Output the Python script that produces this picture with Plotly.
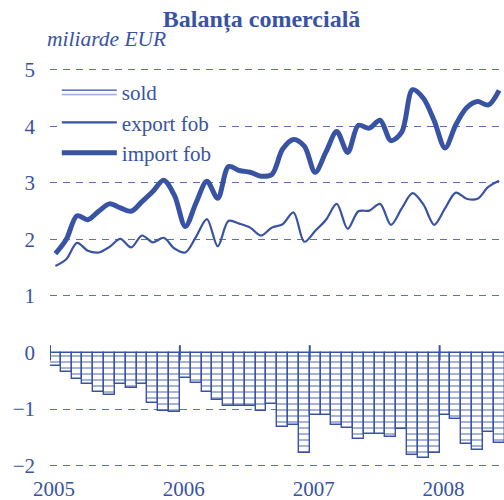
import plotly.graph_objects as go

# ---- data (monthly, Jan 2005 - Jun 2008), billion EUR ----
years = ["2005", "2006", "2007", "2008"]
months_per_year = 12

sold = [-0.24, -0.35, -0.47, -0.56, -0.69, -0.75, -0.56, -0.63, -0.55, -0.89, -1.03, -1.05,
        -0.45, -0.54, -0.69, -0.84, -0.94, -0.94, -0.95, -1.03, -0.91, -1.32, -1.29, -1.78,
        -1.10, -1.11, -1.28, -1.34, -1.53, -1.45, -1.45, -1.49, -1.36, -1.81, -1.86, -1.78,
        -1.11, -1.17, -1.62, -1.72, -1.41, -1.60]

export_fob = [1.53, 1.65, 1.94, 1.80, 1.77, 1.87, 2.01, 1.86, 2.07, 1.95, 2.03, 1.84,
              1.77, 2.05, 2.36, 1.88, 2.33, 2.28, 2.21, 2.07, 2.21, 2.27, 2.48, 1.96,
              2.15, 2.35, 2.63, 2.19, 2.50, 2.51, 2.63, 2.26, 2.55, 2.82, 2.62, 2.26,
              2.55, 2.83, 2.72, 2.72, 2.93, 3.04]

import_fob = [1.75, 2.00, 2.42, 2.35, 2.50, 2.63, 2.56, 2.50, 2.67, 2.85, 3.05, 2.78,
              2.23, 2.65, 3.03, 2.73, 3.29, 3.22, 3.19, 3.12, 3.15, 3.60, 3.77, 3.65,
              3.19, 3.55, 3.91, 3.54, 4.02, 3.97, 4.11, 3.75, 3.90, 4.65, 4.50, 4.10,
              3.62, 4.03, 4.33, 4.44, 4.38, 4.64]

y_ticks = [5, 4, 3, 2, 1, 0, -1, -2]

BLUE = "#3953a4"
FONT = "Liberation Serif"

x = [i + 0.5 for i in range(len(sold))]
year_pos = [i * months_per_year for i in range(len(years))]

fig = go.Figure()
fig.add_trace(go.Bar(
    x=x, y=sold, width=1.0, name="sold", showlegend=False,
    marker=dict(color="white", line=dict(color=BLUE, width=1.4),
                pattern=dict(shape="-", fgcolor=BLUE, bgcolor="white",
                             size=6, solidity=0.3, fillmode="overlay")),
))
# legend entry for the balance (wide striped box like the original)
fig.add_trace(go.Scatter(
    x=[None], y=[None], mode="lines", name="sold", fill="toself",
    line=dict(color=BLUE, width=1.4), fillcolor="white",
    fillpattern=dict(shape="-", fgcolor=BLUE, bgcolor="white", size=5, solidity=0.3),
))
fig.add_trace(go.Scatter(
    x=x, y=export_fob, mode="lines", name="export fob",
    line=dict(color=BLUE, width=2.2, shape="spline", smoothing=0.9),
))
fig.add_trace(go.Scatter(
    x=x, y=import_fob, mode="lines", name="import fob",
    line=dict(color=BLUE, width=5, shape="spline", smoothing=0.9),
))

# year tick marks crossing the zero line
for p in year_pos:
    fig.add_shape(type="line", xref="x", yref="y", x0=p, x1=p, y0=-0.14, y1=0.13,
                  line=dict(color=BLUE, width=2), layer="above")

fig.update_layout(
    width=504, height=500,
    margin=dict(l=50, r=0, t=53, b=26, autoexpand=False),
    paper_bgcolor="white", plot_bgcolor="white",
    font=dict(family=FONT, color=BLUE, size=21),
    title=dict(text="<b>Balanța comercială</b>", x=0.519, xref="container", xanchor="center",
               y=0.962, yref="container", yanchor="middle",
               font=dict(family=FONT, size=24, color=BLUE)),
    showlegend=True,
    legend=dict(x=0.015, y=0.955, xanchor="left", yanchor="top", bgcolor="white",
                font=dict(family=FONT, size=21, color=BLUE), itemwidth=55,
                traceorder="normal", tracegroupgap=0),
    bargap=0,
)
fig.update_xaxes(range=[0, 41.95], tickvals=year_pos, ticktext=years, showgrid=False,
                 zeroline=False, showline=False, ticks="", ticklabelshift=4, automargin=False,
                 tickfont=dict(family=FONT, size=21, color=BLUE))
fig.update_yaxes(range=[-2.15, 5.3], tickvals=y_ticks, showgrid=True, gridcolor="#5b70b6",
                 griddash="7px,6px", gridwidth=1.2, zeroline=False, showline=False, ticks="",
                 ticklabelstandoff=14, automargin=False,
                 tickfont=dict(family=FONT, size=21, color=BLUE))

fig.add_annotation(text="<i>miliarde EUR</i>", xref="paper", yref="paper", x=-0.01, y=1.0,
                   xanchor="left", yanchor="bottom", showarrow=False,
                   font=dict(family=FONT, size=21.5, color=BLUE))

fig.write_html("out.html", config={"displayModeBar": False},
               post_script="document.body.style.margin='0';")
